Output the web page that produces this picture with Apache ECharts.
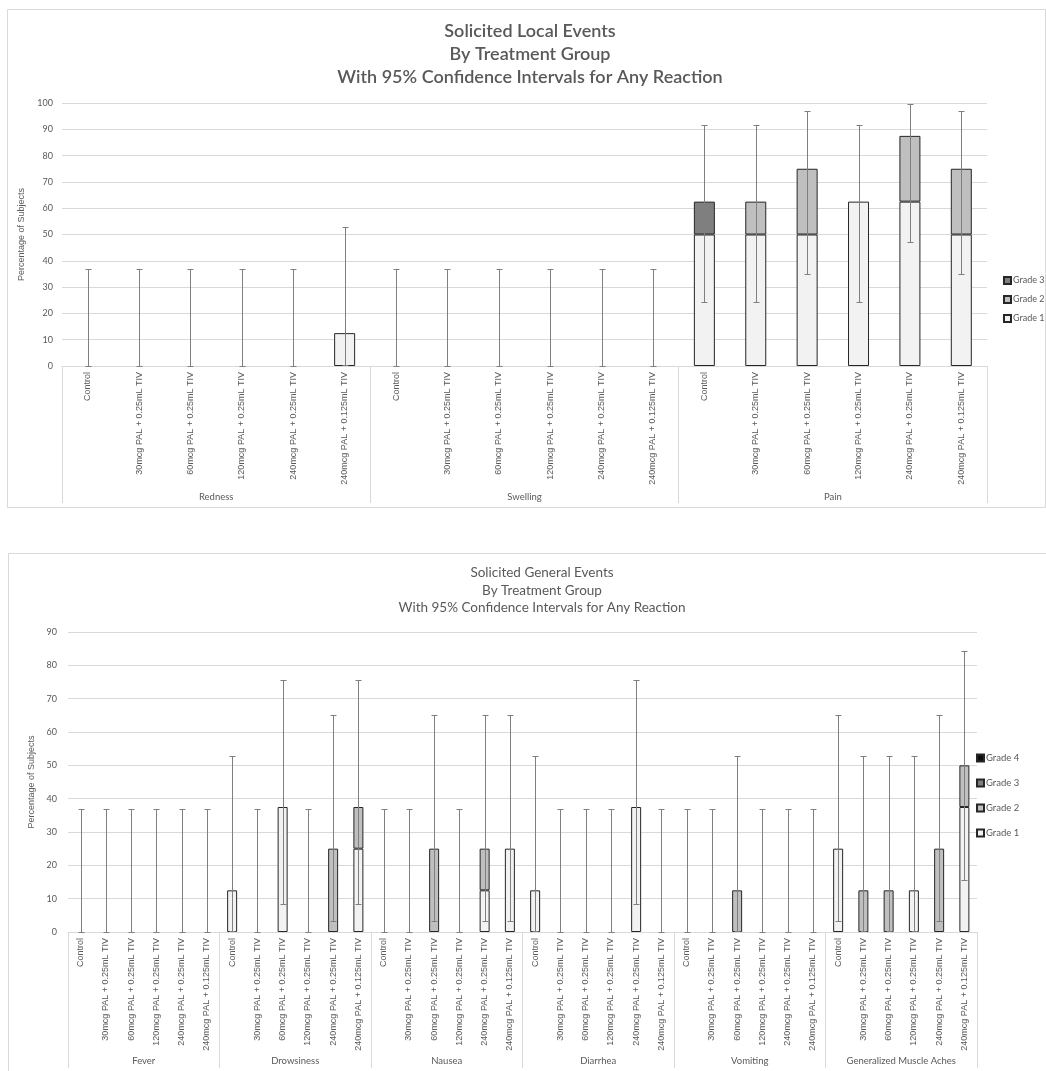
<!DOCTYPE html>
<html>
<head>
<meta charset="utf-8">
<title>Solicited Events by Treatment Group</title>
<script src="https://cdn.jsdelivr.net/npm/echarts@6/dist/echarts.min.js"></script>
<style>
  html, body { margin: 0; padding: 0; background: #ffffff; }
  #chart { width: 1046px; height: 1071px; }
</style>
</head>
<body>
<div id="chart"></div>
<script>
// Treatment groups shown under every event
const treatments = [
  'Control',
  '30mcg PAL + 0.25mL TIV',
  '60mcg PAL + 0.25mL TIV',
  '120mcg PAL + 0.25mL TIV',
  '240mcg PAL + 0.25mL TIV',
  '240mcg PAL + 0.125mL TIV'
];

// ---- Solicited local events ----
const localEvents = ['Redness', 'Swelling', 'Pain'];
const localGrade1 = [0, 0, 0, 0, 0, 12.5,   0, 0, 0, 0, 0, 0,   50, 50, 50, 62.5, 62.5, 50];
const localGrade2 = [0, 0, 0, 0, 0, 0,      0, 0, 0, 0, 0, 0,   0, 12.5, 25, 0, 25, 25];
const localGrade3 = [0, 0, 0, 0, 0, 0,      0, 0, 0, 0, 0, 0,   12.5, 0, 0, 0, 0, 0];
const localCILow  = [0, 0, 0, 0, 0, 0.3,    0, 0, 0, 0, 0, 0,   24.5, 24.5, 34.9, 24.5, 47.3, 34.9];
const localCIHigh = [36.9, 36.9, 36.9, 36.9, 36.9, 52.7,
                     36.9, 36.9, 36.9, 36.9, 36.9, 36.9,
                     91.5, 91.5, 96.8, 91.5, 99.7, 96.8];

// ---- Solicited general events ----
const generalEvents = ['Fever', 'Drowsiness', 'Nausea', 'Diarrhea', 'Vomiting', 'Generalized Muscle Aches'];
const generalGrade1 = [0, 0, 0, 0, 0, 0,
                       12.5, 0, 37.5, 0, 0, 25,
                       0, 0, 0, 0, 12.5, 25,
                       12.5, 0, 0, 0, 37.5, 0,
                       0, 0, 0, 0, 0, 0,
                       25, 0, 0, 12.5, 0, 37.5];
const generalGrade2 = [0, 0, 0, 0, 0, 0,
                       0, 0, 0, 0, 25, 12.5,
                       0, 0, 25, 0, 12.5, 0,
                       0, 0, 0, 0, 0, 0,
                       0, 0, 12.5, 0, 0, 0,
                       0, 12.5, 12.5, 0, 25, 12.5];
const generalGrade3 = [0, 0, 0, 0, 0, 0,  0, 0, 0, 0, 0, 0,  0, 0, 0, 0, 0, 0,
                       0, 0, 0, 0, 0, 0,  0, 0, 0, 0, 0, 0,  0, 0, 0, 0, 0, 0];
const generalGrade4 = [0, 0, 0, 0, 0, 0,  0, 0, 0, 0, 0, 0,  0, 0, 0, 0, 0, 0,
                       0, 0, 0, 0, 0, 0,  0, 0, 0, 0, 0, 0,  0, 0, 0, 0, 0, 0];
const generalCILow  = [0, 0, 0, 0, 0, 0,
                       0.3, 0, 8.5, 0, 3.2, 8.5,
                       0, 0, 3.2, 0, 3.2, 3.2,
                       0.3, 0, 0, 0, 8.5, 0,
                       0, 0, 0.3, 0, 0, 0,
                       3.2, 0.3, 0.3, 0.3, 3.2, 15.7];
const generalCIHigh = [36.9, 36.9, 36.9, 36.9, 36.9, 36.9,
                       52.7, 36.9, 75.5, 36.9, 65.1, 75.5,
                       36.9, 36.9, 65.1, 36.9, 65.1, 65.1,
                       52.7, 36.9, 36.9, 36.9, 75.5, 36.9,
                       36.9, 36.9, 52.7, 36.9, 36.9, 36.9,
                       65.1, 52.7, 52.7, 52.7, 65.1, 84.3];

const localTicks = [0, 100, 10];    // min, max, interval
const generalTicks = [0, 90, 10];

// ---- styling ----
const TEXT = '#595959';
const GRID_LINE = '#d9d9d9';
const WHISKER = '#7f7f7f';
const EDGE = '#262626';
const gradeColor = { 'Grade 1': '#f2f2f2', 'Grade 2': '#bfbfbf', 'Grade 3': '#7f7f7f', 'Grade 4': '#0d0d0d' };
const UI_FONT = 'Lato, "Open Sans", sans-serif';
const LABEL_FONT = '"Liberation Sans", Arial, sans-serif';

// Flatten event x treatment into one category list
function categories(events) {
  const out = [];
  events.forEach(() => treatments.forEach(t => out.push(t)));
  return out;
}
// Zero-height segments are left empty so their borders don't draw on the axis
const asBars = arr => arr.map(v => (v === 0 ? '-' : v));

function gradeSeries(name, values, stack, xi, yi, barWidth) {
  return {
    type: 'bar', name, stack, xAxisIndex: xi, yAxisIndex: yi,
    data: asBars(values), barWidth,
    itemStyle: { color: gradeColor[name], borderColor: EDGE, borderWidth: 1 },
    emphasis: { disabled: true }
  };
}

function whiskerSeries(low, high, xi, yi, capHalf) {
  return {
    type: 'custom', name: 'CI', xAxisIndex: xi, yAxisIndex: yi, z: 5,
    encode: { x: 0, y: [1, 2] },
    data: low.map((l, i) => [i, l, high[i]]),
    renderItem(params, api) {
      const lo = api.coord([api.value(0), api.value(1)]);
      const hi = api.coord([api.value(0), api.value(2)]);
      const x = Math.round(lo[0]) + 0.5;
      const yl = Math.round(lo[1]) + 0.5;
      const yh = Math.round(hi[1]) + 0.5;
      const st = { stroke: WHISKER, lineWidth: 1 };
      return {
        type: 'group',
        children: [
          { type: 'line', shape: { x1: x, y1: yl, x2: x, y2: yh }, style: st },
          { type: 'line', shape: { x1: x - capHalf, y1: yh, x2: x + capHalf, y2: yh }, style: st },
          { type: 'line', shape: { x1: x - capHalf, y1: yl, x2: x + capHalf, y2: yl }, style: st }
        ]
      };
    }
  };
}

function valueAxis(gridIndex, ticks, nameGap, margin) {
  return {
    type: 'value', gridIndex, min: ticks[0], max: ticks[1], interval: ticks[2],
    name: 'Percentage of Subjects', nameLocation: 'middle', nameRotate: 90, nameGap,
    nameTextStyle: { color: TEXT, fontSize: 9, fontFamily: LABEL_FONT },
    axisLine: { show: false }, axisTick: { show: false },
    axisLabel: { color: TEXT, fontSize: 9, fontFamily: UI_FONT, margin },
    splitLine: { lineStyle: { color: GRID_LINE, width: 1 } }
  };
}

function treatmentAxis(gridIndex, events) {
  return {
    type: 'category', gridIndex, position: 'bottom', data: categories(events),
    axisLine: { lineStyle: { color: GRID_LINE } },
    axisTick: { show: false },
    axisLabel: { interval: 0, rotate: 90, margin: 6, color: TEXT, fontSize: 9, fontFamily: LABEL_FONT }
  };
}

function eventAxis(gridIndex, events, tickLen, margin) {
  return {
    type: 'category', gridIndex, position: 'bottom', data: events,
    axisLine: { show: false },
    axisTick: { show: true, length: tickLen, lineStyle: { color: GRID_LINE } },
    axisLabel: { interval: 0, margin, color: TEXT, fontSize: 9.5, fontFamily: UI_FONT }
  };
}

function gradeLegend(names, left, top, gap, fontSize) {
  return {
    data: names, orient: 'vertical', left, top, padding: 0, width: 60,
    itemWidth: 7, itemHeight: 7, itemGap: gap, icon: 'rect',
    textStyle: { color: TEXT, fontSize, fontFamily: UI_FONT, padding: [0, 0, 0, -3], overflow: 'none', width: 50 },
    selectedMode: false
  };
}

const chart = echarts.init(document.getElementById('chart'), null, { renderer: 'canvas' });

chart.setOption({
  animation: false,
  backgroundColor: '#ffffff',
  graphic: [
    { type: 'rect', shape: { x: 7.5, y: 9.5, width: 1038, height: 498 }, style: { fill: 'none', stroke: GRID_LINE, lineWidth: 1 }, z: -1 },
    { type: 'rect', shape: { x: 8.5, y: 553.5, width: 1040, height: 540 }, style: { fill: 'none', stroke: GRID_LINE, lineWidth: 1 }, z: -1 }
  ],
  title: [
    {
      text: 'Solicited Local Events\nBy Treatment Group\nWith 95% Confidence Intervals for Any Reaction',
      left: 530, top: 20, textAlign: 'center', padding: 0,
      textStyle: { color: TEXT, fontSize: 18, fontWeight: 600, lineHeight: 23, fontFamily: UI_FONT }
    },
    {
      text: 'Solicited General Events\nBy Treatment Group\nWith 95% Confidence Intervals for Any Reaction',
      left: 542, top: 564, textAlign: 'center', padding: 0,
      textStyle: { color: TEXT, fontSize: 13.5, fontWeight: 'normal', lineHeight: 17.5, fontFamily: UI_FONT }
    }
  ],
  legend: [
    gradeLegend(['Grade 3', 'Grade 2', 'Grade 1'], 1003, 276, 10, 9),
    gradeLegend(['Grade 4', 'Grade 3', 'Grade 2', 'Grade 1'], 976, 753, 15, 9.5)
  ],
  grid: [
    { left: 62, right: 59, top: 103, bottom: 705 },
    { left: 68, right: 69, top: 632, bottom: 139 }
  ],
  xAxis: [
    treatmentAxis(0, localEvents),
    eventAxis(0, localEvents, 137, 126),
    treatmentAxis(1, generalEvents),
    eventAxis(1, generalEvents, 136, 124)
  ],
  yAxis: [
    valueAxis(0, localTicks, 27, 9),
    valueAxis(1, generalTicks, 23, 11)
  ],
  series: [
    gradeSeries('Grade 1', localGrade1, 'local', 0, 0, 21),
    gradeSeries('Grade 2', localGrade2, 'local', 0, 0, 21),
    gradeSeries('Grade 3', localGrade3, 'local', 0, 0, 21),
    whiskerSeries(localCILow, localCIHigh, 0, 0, 3),

    gradeSeries('Grade 1', generalGrade1, 'general', 2, 1, 10),
    gradeSeries('Grade 2', generalGrade2, 'general', 2, 1, 10),
    gradeSeries('Grade 3', generalGrade3, 'general', 2, 1, 10),
    gradeSeries('Grade 4', generalGrade4, 'general', 2, 1, 10),
    whiskerSeries(generalCILow, generalCIHigh, 2, 1, 3)
  ]
});
</script>
</body>
</html>
